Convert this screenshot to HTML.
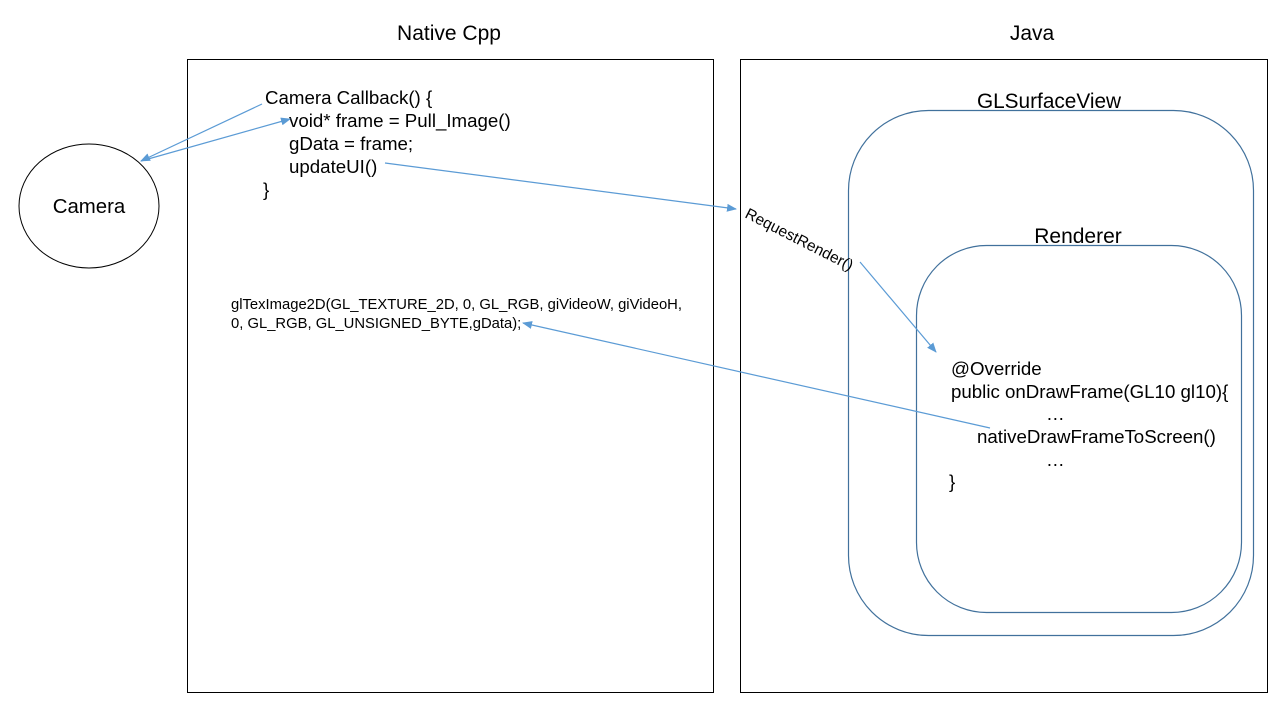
<!DOCTYPE html>
<html><head><meta charset="utf-8"><style>
html,body{margin:0;padding:0;background:#fff;}
svg{display:block;}
text{font-family:"Liberation Sans",Arial,sans-serif;fill:#000;}
</style></head><body>
<svg width="1280" height="720" viewBox="0 0 1280 720" xmlns="http://www.w3.org/2000/svg">
<defs>
<marker id="a" markerWidth="10" markerHeight="8" refX="9" refY="4" orient="auto" markerUnits="userSpaceOnUse">
<path d="M0,0 L10,4 L0,8 z" fill="#5b9bd5"/></marker>
</defs>
<rect x="187.5" y="59.5" width="526" height="633" fill="none" stroke="#000" stroke-width="1"/>
<rect x="740.5" y="59.5" width="527" height="633" fill="none" stroke="#000" stroke-width="1"/>
<ellipse cx="89" cy="206" rx="70" ry="62" fill="none" stroke="#000" stroke-width="1"/>
<rect x="848.5" y="110.5" width="405" height="525" rx="80" fill="none" stroke="#41719c" stroke-width="1.2"/>
<rect x="916.5" y="245.5" width="325" height="367" rx="70" fill="none" stroke="#41719c" stroke-width="1.2"/>
<g font-size="21">
<text x="449" y="40" text-anchor="middle">Native Cpp</text>
<text x="1032" y="40" text-anchor="middle">Java</text>
<text x="1049" y="108" text-anchor="middle" font-size="20.8">GLSurfaceView</text>
<text x="1078" y="243" text-anchor="middle">Renderer</text>
<text x="89" y="213" text-anchor="middle" font-size="20.4">Camera</text>
</g>
<g font-size="18.7">
<text x="265" y="104">Camera Callback() {</text>
<text x="289" y="127">void* frame = Pull_Image()</text>
<text x="289" y="150">gData = frame;</text>
<text x="289" y="173">updateUI()</text>
<text x="263" y="196">}</text>
<text x="951" y="375">@Override</text>
<text x="951" y="398">public onDrawFrame(GL10 gl10){</text>
<text x="1046" y="420">…</text>
<text x="977" y="443">nativeDrawFrameToScreen()</text>
<text x="1046" y="466">…</text>
<text x="949" y="488">}</text>
</g>
<g font-size="14.8">
<text x="231" y="309">glTexImage2D(GL_TEXTURE_2D, 0, GL_RGB, giVideoW, giVideoH,</text>
<text x="231" y="328">0, GL_RGB, GL_UNSIGNED_BYTE,gData);</text>
</g>
<text font-size="15.5" transform="translate(744,217) rotate(27)">RequestRender()</text>
<g stroke="#5b9bd5" stroke-width="1.2" fill="none">
<line x1="262" y1="104" x2="141" y2="161" marker-end="url(#a)"/>
<line x1="141" y1="161" x2="290" y2="119" marker-end="url(#a)"/>
<line x1="385" y1="163" x2="736" y2="209" marker-end="url(#a)"/>
<line x1="860" y1="262" x2="936" y2="352" marker-end="url(#a)"/>
<line x1="990" y1="428" x2="523" y2="323" marker-end="url(#a)"/>
</g>
</svg>
</body></html>
